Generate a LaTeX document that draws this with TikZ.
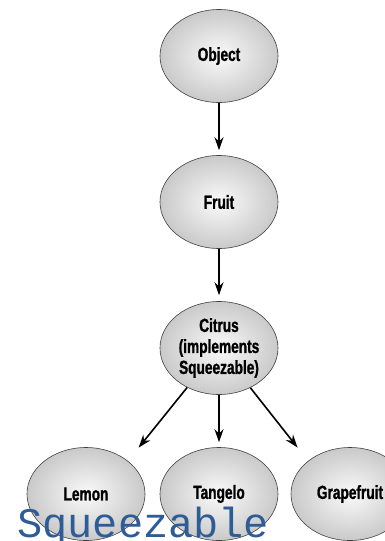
\documentclass[tikz,border=0pt]{standalone}
\usepackage{fontspec}
\newfontfamily\narrowsf[FakeStretch=0.72, BoldFeatures={FakeBold=1.2}]{Liberation Sans}
\newfontfamily\labelmono{Liberation Mono}
\usetikzlibrary{shapes.geometric,arrows.meta}
\definecolor{labelblue}{RGB}{46,92,150}
\begin{document}
\begin{tikzpicture}[x=1pt,y=1pt,node distance=146pt]
\useasboundingbox (0,0) rectangle (385,-541);

% definitions
\tikzstyle{classnode} = [ellipse, minimum width=118pt, minimum height=93pt, inner sep=0pt, draw=black!75, line width=0.6pt, inner color=gray!4, outer color=gray!42, font=\narrowsf\bfseries\fontsize{19}{21}\selectfont, align=center]

\tikzstyle{arrow} = [-{Stealth[length=13pt,width=9pt]}, line width=1.6pt]

% the graph
\node (object) [classnode] at (219,-56) {Object};

\node (fruit) [classnode, below of=object] {Fruit};

\node (citrus) [classnode, below of=fruit] {Citrus\\(implements\\Squeezable)};

\node (tangelo) [classnode, below of=citrus] {Tangelo};

\node (lemon) [classnode, below of=citrus, xshift=-133pt] {Lemon};

\node (grapefruit) [classnode, below of=citrus, xshift=131pt] {Grapefruit};

\draw [arrow, shorten >=5pt] (object) -- (fruit);
\draw [arrow, shorten >=6pt] (fruit) -- (citrus);

\draw [arrow, shorten >=17pt] (citrus) -- (lemon.north east);
\draw [arrow, shorten >=5pt] (citrus) -- (tangelo);
\draw [arrow, shorten >=17pt] (citrus) -- (grapefruit.north west);

% interface label
\node (squeezable) [anchor=base west, inner sep=0pt, text=labelblue, font=\labelmono\fontsize{42}{42}\selectfont] at (17,-537) {Squeezable};

\end{tikzpicture}
\end{document}
